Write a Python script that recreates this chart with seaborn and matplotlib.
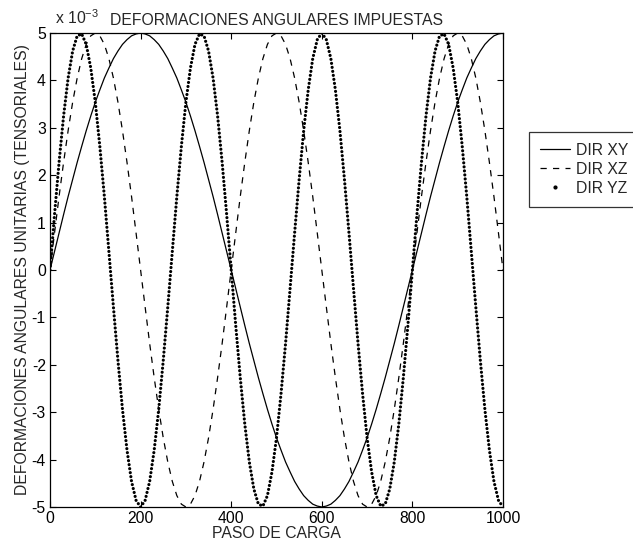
import matplotlib
matplotlib.use("Agg")
import seaborn as sns
from matplotlib import pyplot as plt
from matplotlib.lines import Line2D

sns.set_style("ticks")
plt.rcParams["font.family"] = ["Liberation Sans", "DejaVu Sans"]
plt.rcParams["axes.unicode_minus"] = False
plt.rcParams["lines.scale_dashes"] = False

# paso de carga (cada 10 pasos) y deformaciones, en unidades de 1e-3
paso = list(range(0, 1001, 10))

dir_xy = [0.00, 0.39, 0.78, 1.17, 1.55, 1.91, 2.27, 2.61, 2.94, 3.25, 3.54,
          3.80, 4.05, 4.26, 4.46, 4.62, 4.76, 4.86, 4.94, 4.98, 5.00,
          4.98, 4.94, 4.86, 4.76, 4.62, 4.46, 4.26, 4.05, 3.80, 3.54,
          3.25, 2.94, 2.61, 2.27, 1.91, 1.55, 1.17, 0.78, 0.39, 0.00,
          -0.39, -0.78, -1.17, -1.55, -1.91, -2.27, -2.61, -2.94, -3.25, -3.54,
          -3.80, -4.05, -4.26, -4.46, -4.62, -4.76, -4.86, -4.94, -4.98, -5.00,
          -4.98, -4.94, -4.86, -4.76, -4.62, -4.46, -4.26, -4.05, -3.80, -3.54,
          -3.25, -2.94, -2.61, -2.27, -1.91, -1.55, -1.17, -0.78, -0.39, 0.00,
          0.39, 0.78, 1.17, 1.55, 1.91, 2.27, 2.61, 2.94, 3.25, 3.54,
          3.80, 4.05, 4.26, 4.46, 4.62, 4.76, 4.86, 4.94, 4.98, 5.00]

dir_xz = [0.00, 0.78, 1.55, 2.27, 2.94, 3.54, 4.05, 4.46, 4.76, 4.94, 5.00,
          4.94, 4.76, 4.46, 4.05, 3.54, 2.94, 2.27, 1.55, 0.78, 0.00,
          -0.78, -1.55, -2.27, -2.94, -3.54, -4.05, -4.46, -4.76, -4.94, -5.00,
          -4.94, -4.76, -4.46, -4.05, -3.54, -2.94, -2.27, -1.55, -0.78, 0.00,
          0.78, 1.55, 2.27, 2.94, 3.54, 4.05, 4.46, 4.76, 4.94, 5.00,
          4.94, 4.76, 4.46, 4.05, 3.54, 2.94, 2.27, 1.55, 0.78, 0.00,
          -0.78, -1.55, -2.27, -2.94, -3.54, -4.05, -4.46, -4.76, -4.94, -5.00,
          -4.94, -4.76, -4.46, -4.05, -3.54, -2.94, -2.27, -1.55, -0.78, 0.00,
          0.78, 1.55, 2.27, 2.94, 3.54, 4.05, 4.46, 4.76, 4.94, 5.00,
          4.94, 4.76, 4.46, 4.05, 3.54, 2.94, 2.27, 1.55, 0.78, 0.00]

dir_yz = [0.00, 1.17, 2.27, 3.25, 4.05, 4.62, 4.94, 4.98, 4.76, 4.26, 3.54,
          2.61, 1.55, 0.39, -0.78, -1.91, -2.94, -3.80, -4.46, -4.86, -5.00,
          -4.86, -4.46, -3.80, -2.94, -1.91, -0.78, 0.39, 1.55, 2.61, 3.54,
          4.26, 4.76, 4.98, 4.94, 4.62, 4.05, 3.25, 2.27, 1.17, 0.00,
          -1.17, -2.27, -3.25, -4.05, -4.62, -4.94, -4.98, -4.76, -4.26, -3.54,
          -2.61, -1.55, -0.39, 0.78, 1.91, 2.94, 3.80, 4.46, 4.86, 5.00,
          4.86, 4.46, 3.80, 2.94, 1.91, 0.78, -0.39, -1.55, -2.61, -3.54,
          -4.26, -4.76, -4.98, -4.94, -4.62, -4.05, -3.25, -2.27, -1.17, 0.00,
          1.17, 2.27, 3.25, 4.05, 4.62, 4.94, 4.98, 4.76, 4.26, 3.54,
          2.61, 1.55, 0.39, -0.78, -1.91, -2.94, -3.80, -4.46, -4.86, -5.00]

etiquetas = ["DIR XY", "DIR XZ", "DIR YZ"]

fs = 11.3

fig = plt.figure(figsize=(6.33, 5.46), dpi=100)
ax = fig.add_axes([50 / 633, 1 - 507 / 546, 453 / 633, 474 / 546])

sns.lineplot(x=paso, y=dir_xy, ax=ax, color="black", lw=0.9)
sns.lineplot(x=paso, y=dir_xz, ax=ax, color="black", lw=0.9,
             linestyle=(0, (4.5, 4.5)))
sns.lineplot(x=paso, y=dir_yz, ax=ax, color="black", lw=2.3,
             linestyle=(0, (0.01, 2.9)), dash_capstyle="round")

ax.set_xlim(0, 1000)
ax.set_ylim(-5, 5)
ax.set_xticks(range(0, 1001, 200))
ax.set_yticks(range(-5, 6))
ax.tick_params(direction="in", top=True, right=True, length=4, width=0.8,
               labelsize=fs, colors="black", pad=3)
for sp in ax.spines.values():
    sp.set_color("black")
    sp.set_linewidth(0.9)

ax.set_title("DEFORMACIONES ANGULARES IMPUESTAS", fontsize=fs, pad=6)
ax.set_xlabel("PASO DE CARGA", fontsize=fs, labelpad=0)
ax.set_ylabel("DEFORMACIONES ANGULARES UNITARIAS (TENSORIALES)", fontsize=fs,
              labelpad=1)
fig.text(55 / 633, 1 - 24 / 546, r"x 10$^{\mathregular{-3}}$", fontsize=fs,
         va="baseline")

handles = [
    Line2D([], [], color="black", lw=0.9),
    Line2D([], [], color="black", lw=0.9, linestyle=(0, (4.5, 4.5))),
    Line2D([], [], color="black", lw=0, marker=".", markersize=4),
]
leg = fig.legend(handles, etiquetas, loc="upper left",
                 bbox_to_anchor=(529 / 633, 1 - 132 / 546), fontsize=fs,
                 frameon=True, fancybox=False, shadow=False, borderpad=0.7,
                 handlelength=1.9, handletextpad=0.4, labelspacing=0.25,
                 borderaxespad=0)
leg.get_frame().set_edgecolor("black")
leg.get_frame().set_linewidth(0.9)

fig.savefig("out.png", dpi=100)
